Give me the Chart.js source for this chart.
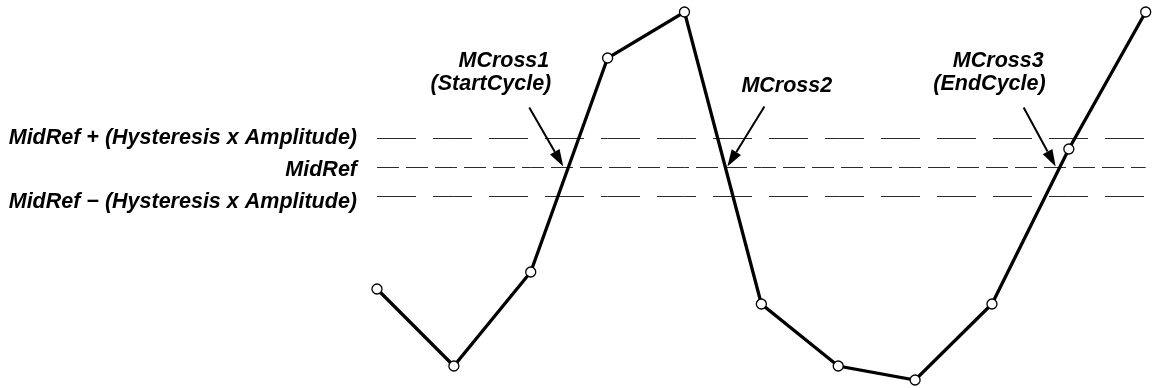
<!DOCTYPE html>
<html>
<head>
<meta charset="utf-8">
<script src="https://cdn.jsdelivr.net/npm/chart.js@4/dist/chart.umd.min.js"></script>
<style>
  html, body { margin: 0; padding: 0; background: #fff; }
  #wrap { width: 1152px; height: 388px; }
</style>
</head>
<body>
<div id="wrap"><canvas id="c" width="1152" height="388"></canvas></div>
<script>
// ---- data ----
const categories = ['0','1','2','3','4','5','6','7','8','9','10'];
const signalValues = [91, 14, 108, 322, 368, 76, 14, 0, 76, 231, 368];
const midRef = 212.5;
const hysteresisBand = 29;
const levelLabels = ['MidRef + (Hysteresis x Amplitude)', 'MidRef', 'MidRef \u2212 (Hysteresis x Amplitude)'];
const crossingLabels = [['MCross1', '(StartCycle)'], ['MCross2'], ['MCross3', '(EndCycle)']];

const upper = categories.map(() => midRef + hysteresisBand);
const mid = categories.map(() => midRef);
const lower = categories.map(() => midRef - hysteresisBand);

const FONT = "bold italic 21.5px 'Liberation Sans', Arial, sans-serif";

function findCrossings(chart) {
  const xs = chart.scales.x, ys = chart.scales.y;
  const res = [];
  for (let i = 0; i < signalValues.length - 1; i++) {
    const a = signalValues[i], b = signalValues[i + 1];
    if ((a - midRef) * (b - midRef) < 0) {
      const t = (midRef - a) / (b - a);
      const x0 = xs.getPixelForValue(i), x1 = xs.getPixelForValue(i + 1);
      res.push({ x: x0 + (x1 - x0) * t, y: ys.getPixelForValue(midRef) });
    }
  }
  return res;
}

function arrow(ctx, x1, y1, x2, y2) {
  const ang = Math.atan2(y2 - y1, x2 - x1);
  const hl = 17, hw = 5.5;
  const bx = x2 - hl * Math.cos(ang), by = y2 - hl * Math.sin(ang);
  ctx.beginPath();
  ctx.moveTo(x1, y1);
  ctx.lineTo(bx, by);
  ctx.lineWidth = 2;
  ctx.strokeStyle = '#000';
  ctx.stroke();
  ctx.beginPath();
  ctx.moveTo(x2, y2);
  ctx.lineTo(bx + hw * Math.sin(ang), by - hw * Math.cos(ang));
  ctx.lineTo(bx - hw * Math.sin(ang), by + hw * Math.cos(ang));
  ctx.closePath();
  ctx.fillStyle = '#000';
  ctx.fill();
}

const annotate = {
  id: 'annotate',
  afterDraw(chart) {
    const ctx = chart.ctx;
    const ys = chart.scales.y, xs = chart.scales.x;
    ctx.save();
    ctx.font = FONT;
    ctx.fillStyle = '#000';
    ctx.textAlign = 'right';
    ctx.textBaseline = 'alphabetic';
    const labelRight = xs.left - 20;
    const levels = [midRef + hysteresisBand, midRef, midRef - hysteresisBand];
    const baseOffsets = [5, 8.5, 11];
    levels.forEach((v, i) => {
      ctx.fillText(levelLabels[i], labelRight, ys.getPixelForValue(v) + baseOffsets[i]);
    });

    const cr = findCrossings(chart);
    const arrowSpec = [
      { dx: -39, dy: -60, gap: -5 },
      { dx: 39, dy: -61, gap: 2 },
      { dx: -36, dy: -60, gap: -4 }
    ];
    cr.forEach((c, i) => {
      const s = arrowSpec[i];
      const tipX = c.x + s.gap, tipY = c.y - 1;
      const tailX = c.x + s.dx, tailY = c.y + s.dy;
      arrow(ctx, tailX, tailY, tipX, tipY);
      const lines = crossingLabels[i];
      if (i === 1) {
        ctx.textAlign = 'left';
        ctx.fillText(lines[0], tailX - 23, tailY - 15);
      } else {
        ctx.textAlign = 'right';
        ctx.fillText(lines[0], tailX + 20, tailY - 41);
        ctx.fillText(lines[1], tailX + 22, tailY - 18);
      }
    });
    ctx.restore();
  }
};

new Chart(document.getElementById('c'), {
  type: 'line',
  data: {
    labels: categories,
    datasets: [
      {
        data: signalValues,
        borderColor: '#000',
        borderWidth: 3.3,
        pointRadius: 5,
        pointBorderWidth: 1.3,
        pointBorderColor: '#000',
        pointBackgroundColor: '#fff',
        tension: 0,
        clip: false,
        order: 0
      },
      { data: upper, borderColor: '#2a2a2a', borderWidth: 1, borderDash: [39, 17], pointRadius: 0, order: 1, clip: false },
      { data: mid, borderColor: '#2a2a2a', borderWidth: 1, borderDash: [22, 7], pointRadius: 0, order: 1, clip: false },
      { data: lower, borderColor: '#2a2a2a', borderWidth: 1, borderDash: [39, 17], pointRadius: 0, order: 1, clip: false }
    ]
  },
  options: {
    responsive: false,
    animation: false,
    devicePixelRatio: 1,
    layout: { padding: { left: 377, right: 6, top: 12, bottom: 8 } },
    plugins: { legend: { display: false }, tooltip: { enabled: false } },
    scales: {
      x: { type: 'category', display: false, offset: false },
      y: { type: 'linear', display: false, min: 0, max: 368 }
    }
  },
  plugins: [annotate]
});
</script>
</body>
</html>
